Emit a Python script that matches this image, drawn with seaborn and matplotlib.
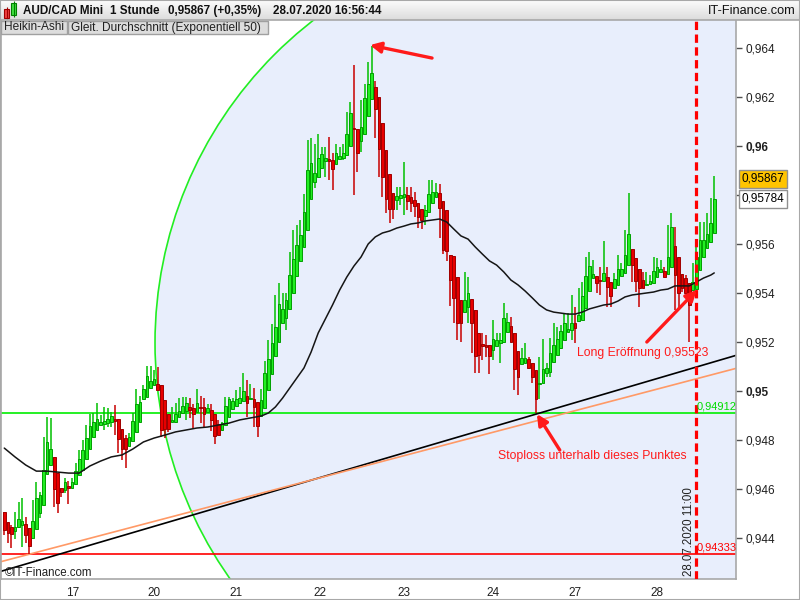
import numpy as np
import pandas as pd
import matplotlib
matplotlib.use("Agg")
import matplotlib.pyplot as plt
from matplotlib.patches import Ellipse, Rectangle
from matplotlib.colors import LinearSegmentedColormap
import seaborn as sns

# Heikin-Ashi candles, AUD/CAD 1h, 16.07.2020 - 28.07.2020
opens = [
    .94505, .94467, .94444, .94430, .94446, .94453, .94457, .94440, .94402, .94436,
    .94501, .94535, .94660, .94698, .94732, .94664, .94606, .94596, .94612, .94606,
    .94619, .94657, .94678, .94721, .94762, .94814, .94841, .94861, .94864, .94871,
    .94875, .94884, .94884, .94844, .94807, .94776, .94796, .94834, .94875, .94966,
    .94977, .95011, .95024, .95029, .95024, .94963, .94905, .94875, .94875, .94893,
    .94912, .94918, .94936, .94932, .94916, .94936, .94936, .94914, .94922, .94905,
    .94864, .94841, .94861, .94895, .94925, .94939, .94952, .94959, .94980, .94966,
    .94967, .94954, .94898, .94929, .95004, .95068, .95143, .95199, .95276, .95296,
    .95333, .95401, .95469, .95530, .95589, .95657, .95782, .95854, .95872, .95911,
    .95940, .95947, .95942, .95925, .95949, .95953, .95963, .96000, .96072, .96068,
    .96021, .96049, .96122, .96190, .96242, .96198, .96092, .95983, .95884, .95809,
    .95779, .95786, .95793, .95800, .95790, .95779, .95766, .95743, .95714, .95732,
    .95768, .95790, .95809, .95775, .95738, .95555, .95551, .95464, .95371, .95324,
    .95341, .95374, .95330, .95235, .95192, .95188, .95188, .95167, .95184, .95197,
    .95201, .95242, .95265, .95235, .95163, .95109, .95116, .95129, .95116, .95086,
    .95029, .95031, .95075, .95079, .95120, .95147, .95174, .95208, .95242, .95249,
    .95279, .95287, .95290, .95337, .95408, .95460, .95469, .95453, .95450, .95466,
    .95446, .95419, .95432, .95469, .95480, .95514, .95578, .95541, .95496, .95453,
    .95432, .95435, .95442, .95466, .95484, .95490, .95476, .95507, .95592, .95548,
    .95476, .95460, .95439, .95412, .95415, .95494, .95548, .95582, .95609, .95646,
]
highs = [
    .94505, .94467, .94453, .94508, .94546, .94565, .94487, .94440, .94555, .94630,
    .94589, .94814, .94893, .94888, .94732, .94664, .94606, .94644, .94634, .94644,
    .94705, .94759, .94800, .94861, .94906, .94909, .94952, .94902, .94936, .94929,
    .94916, .94943, .94884, .94844, .94820, .94827, .94909, .95007, .94980, .95024,
    .95102, .95102, .95086, .95097, .95024, .94963, .94905, .94936, .94950, .94970,
    .94977, .94974, .94970, .94946, .95007, .94980, .94970, .94946, .94946, .94905,
    .94882, .94875, .94977, .94977, .94970, .95004, .95018, .95072, .95045, .95027,
    .95011, .94954, .95008, .95122, .95208, .95272, .95392, .95440, .95398, .95398,
    .95568, .95657, .95677, .95698, .95806, .96024, .96031, .96010, .96047, .95997,
    .95994, .96035, .95970, .96008, .95997, .96008, .96140, .96180, .96330, .96068,
    .96187, .96255, .96344, .96408, .96266, .96198, .96092, .95983, .95884, .95809,
    .95834, .95834, .95936, .95834, .95834, .95813, .95766, .95743, .95759, .95861,
    .95861, .95850, .95845, .95775, .95738, .95555, .95551, .95464, .95371, .95487,
    .95466, .95374, .95330, .95235, .95238, .95228, .95188, .95290, .95235, .95235,
    .95358, .95317, .95303, .95235, .95163, .95174, .95197, .95140, .95116, .95086,
    .95140, .95211, .95113, .95215, .95276, .95262, .95269, .95317, .95317, .95392,
    .95344, .95419, .95446, .95548, .95568, .95534, .95469, .95507, .95612, .95507,
    .95446, .95480, .95555, .95521, .95657, .95809, .95578, .95541, .95496, .95487,
    .95487, .95473, .95548, .95541, .95534, .95507, .95677, .95725, .95670, .95548,
    .95476, .95473, .95439, .95524, .95596, .95691, .95691, .95725, .95786, .95877,
]
lows = [
    .94412, .94381, .94358, .94395, .94440, .94365, .94378, .94334, .94402, .94436,
    .94480, .94535, .94660, .94698, .94528, .94504, .94569, .94582, .94538, .94606,
    .94619, .94657, .94678, .94721, .94762, .94814, .94841, .94861, .94841, .94854,
    .94854, .94820, .94746, .94718, .94684, .94776, .94796, .94834, .94875, .94966,
    .94977, .95011, .95024, .95004, .94814, .94807, .94834, .94875, .94868, .94893,
    .94912, .94882, .94888, .94850, .94916, .94868, .94854, .94914, .94837, .94782,
    .94820, .94838, .94861, .94893, .94925, .94939, .94952, .94959, .94895, .94966,
    .94854, .94811, .94898, .94929, .95004, .95068, .95143, .95199, .95276, .95249,
    .95333, .95401, .95469, .95530, .95589, .95657, .95782, .95827, .95872, .95911,
    .95872, .95861, .95820, .95925, .95949, .95942, .95963, .96000, .95800, .95895,
    .95976, .96049, .96122, .96190, .96031, .95875, .95793, .95725, .95684, .95704,
    .95738, .95759, .95718, .95738, .95732, .95711, .95664, .95660, .95677, .95732,
    .95768, .95790, .95623, .95560, .95530, .95345, .95276, .95208, .95201, .95324,
    .95276, .95154, .95072, .95072, .95126, .95140, .95069, .95126, .95184, .95113,
    .95201, .95242, .95201, .95004, .94984, .95109, .95116, .95092, .95031, .94912,
    .94966, .95031, .95058, .95058, .95120, .95147, .95174, .95208, .95242, .95208,
    .95194, .95287, .95290, .95337, .95408, .95460, .95398, .95392, .95450, .95344,
    .95344, .95419, .95432, .95469, .95480, .95514, .95446, .95405, .95341, .95419,
    .95432, .95435, .95442, .95466, .95484, .95464, .95476, .95507, .95330, .95330,
    .95405, .95401, .95201, .95412, .95415, .95494, .95548, .95582, .95609, .95646,
]
closes = [
    .94433, .94419, .94415, .94446, .94478, .94471, .94412, .94369, .94470, .94562,
    .94576, .94678, .94793, .94762, .94599, .94544, .94589, .94630, .94603, .94627,
    .94674, .94723, .94759, .94807, .94857, .94875, .94884, .94875, .94878, .94884,
    .94898, .94879, .94803, .94762, .94762, .94814, .94878, .94946, .94956, .95007,
    .95061, .95041, .95048, .95004, .94841, .94845, .94845, .94882, .94905, .94918,
    .94939, .94950, .94922, .94906, .94950, .94931, .94905, .94932, .94882, .94816,
    .94820, .94868, .94939, .94967, .94959, .94967, .94973, .95000, .94952, .94970,
    .94933, .94859, .94963, .95072, .95129, .95197, .95262, .95355, .95333, .95371,
    .95473, .95537, .95596, .95636, .95732, .95904, .95932, .95891, .95953, .95967,
    .95953, .95940, .95908, .95970, .95959, .95972, .96051, .96136, .96068, .95972,
    .96078, .96194, .96255, .96300, .96153, .95986, .95875, .95782, .95741, .95741,
    .95796, .95800, .95806, .95777, .95766, .95756, .95711, .95698, .95738, .95806,
    .95813, .95811, .95749, .95575, .95573, .95453, .95378, .95276, .95279, .95371,
    .95401, .95279, .95143, .95147, .95184, .95181, .95144, .95211, .95208, .95208,
    .95299, .95280, .95201, .95088, .95058, .95133, .95133, .95092, .95056, .94966,
    .95034, .95088, .95092, .95156, .95188, .95211, .95245, .95276, .95252, .95276,
    .95256, .95310, .95388, .95469, .95511, .95476, .95439, .95450, .95483, .95426,
    .95389, .95456, .95496, .95498, .95555, .95641, .95514, .95449, .95419, .95419,
    .95437, .95449, .95490, .95505, .95496, .95464, .95545, .95668, .95473, .95401,
    .95419, .95401, .95351, .95446, .95548, .95616, .95616, .95641, .95684, .95782,
]

# Gleitender Durchschnitt (EMA 50), read at selected bars
ema_bar = [0, 3, 6, 9, 12, 15, 18, 21, 24, 27, 30, 33, 36, 39, 42, 45, 48, 51, 54, 57,
           60, 63, 66, 69, 72, 74, 76, 78, 80, 82, 84, 86, 88, 90, 92, 94, 96, 98, 100,
           102, 104, 106, 108, 110, 112, 114, 116, 118, 120, 122, 124, 126, 128, 130,
           132, 134, 136, 138, 140, 142, 144, 146, 148, 150, 152, 154, 156, 158, 160,
           162, 164, 166, 168, 170, 172, 174, 176, 178, 180, 182, 184, 186, 188, 190,
           192, 194, 196, 198, 199]
ema_val = [.94767, .94731, .94698, .94673, .94673, .94669, .94665, .94665, .94694, .94714,
           .94731, .94739, .94763, .94792, .94808, .94820, .94833, .94841, .94849, .94853,
           .94861, .94869, .94882, .94890, .94898, .94910, .94935, .94971, .95012, .95053,
           .95094, .95159, .95237, .95294, .95351, .95412, .95465, .95510, .95547,
           .95600, .95629, .95645, .95653, .95665, .95673, .95682, .95686, .95694, .95698,
           .95702, .95690, .95661, .95633, .95620, .95588, .95559, .95531, .95514, .95486,
           .95453, .95433, .95408, .95380, .95351, .95331, .95322, .95318, .95314, .95314,
           .95322, .95335, .95343, .95351, .95355, .95367, .95384, .95392, .95396, .95400,
           .95404, .95412, .95416, .95429, .95429, .95429, .95445, .95461, .95473, .95482]

day_ticks = [19.3, 42, 65, 88.4, 112, 137, 160, 183]
day_labels = ["17", "20", "21", "22", "23", "24", "27", "28"]
price_ticks = [0.944, 0.946, 0.948, 0.95, 0.952, 0.954, 0.956, 0.958, 0.96, 0.962, 0.964]

support = 0.94912
old_low = 0.94333
entry_bar = 194
last_close = 0.95784
last_price = 0.95867
trend_black = (0.94268, 0.95145)   # at bar 0 and bar 205
trend_orange = (0.94307, 0.95092)

sns.set_theme(style="white")
plt.rcParams["font.family"] = ["DejaVu Sans"]

fig = plt.figure(figsize=(8, 6), dpi=100)
fig.patch.set_facecolor("white")
ax = fig.add_axes([1 / 800, 21 / 600, 735 / 800, 559 / 600])
ax.set_facecolor("white")
ax.set_xlim(-0.92, 205.1)
ax.set_ylim(0.942327, 0.965143)

# circle drawing tool
ax.add_patch(Ellipse((156.6, 0.95196), 228.7, 0.033306, facecolor="#E8EEFC",
                     edgecolor="#22EE22", lw=1.2, zorder=0))

ax.axhline(support, color="#00EE00", lw=1.2, zorder=1)
ax.axhline(old_low, color="#FF0000", lw=1.2, zorder=1)
ax.axline((0, trend_black[0]), (205, trend_black[1]), color="black", lw=1.2, zorder=1)
ax.axline((0, trend_orange[0]), (205, trend_orange[1]), color="#FF9966", lw=1.2, zorder=1)

df = pd.DataFrame({"open": opens, "high": highs, "low": lows, "close": closes})
df["bar"] = np.arange(len(df))
up = df["close"] >= df["open"]
for mask, body, edge, wick in [(up, "#22EE22", "#00A000", "#00C000"),
                               (~up, "#E80000", "#A00000", "#C80000")]:
    d = df[mask]
    ax.vlines(d["bar"], d["low"], d["high"], color=wick, lw=1.1, zorder=2)
    ax.bar(d["bar"], (d["close"] - d["open"]).abs().clip(lower=0.00003),
           bottom=d[["open", "close"]].min(axis=1), width=0.75,
           color=body, edgecolor=edge, lw=0.7, zorder=3)

sns.lineplot(x=ema_bar, y=ema_val, ax=ax, color="#151515", lw=1.1, zorder=4)

ax.axvline(entry_bar, color="#FF0000", lw=2.3, linestyle=(0, (2.6, 1.4)), zorder=5)

red = "#FF1A1A"
arrow = dict(arrowstyle="-|>", color=red, lw=2.4, mutation_scale=16,
             shrinkA=0, shrinkB=0)
ax.annotate("", xy=(102.5, 0.96412), xytext=(119.9, 0.96359), arrowprops=arrow, zorder=6)
ax.annotate("", xy=(194.1, 0.95412), xytext=(180.1, 0.95200), arrowprops=arrow, zorder=6)
ax.annotate("", xy=(149.3, 0.94906), xytext=(155.7, 0.94759), arrowprops=arrow, zorder=6)

ax.text(160.5, 0.95155, "Long Eröffnung 0,95523", color=red, fontsize=8.8,
        family="Liberation Sans", ha="left", va="center", zorder=7)
ax.text(164.7, 0.94735, "Stoploss unterhalb dieses Punktes", color=red, fontsize=8.8,
        family="Liberation Sans", ha="center", va="center", zorder=7)
ax.text(191.9, 0.94243, "28.07.2020 11:00", rotation=90, color="#202020", fontsize=8.3,
        family="Liberation Sans", ha="center", va="bottom", zorder=7)
ax.text(194.1, support + 0.00006, "0,94912", color="#00DD00", fontsize=8,
        family="Liberation Sans", ha="left", va="bottom", zorder=7)
ax.text(194.1, old_low + 0.00006, "0,94333", color="#FF0000", fontsize=8,
        family="Liberation Sans", ha="left", va="bottom", zorder=7)
ax.text(0.2, 0.94257, "©IT-Finance.com", color="#202020", fontsize=8.3,
        family="Liberation Sans", ha="left", va="center", zorder=7)

# axes styling
for side in ["left", "right", "bottom"]:
    ax.spines[side].set_color("#A8A8A8")
    ax.spines[side].set_linewidth(1.2)
ax.spines["top"].set_visible(False)
ax.yaxis.tick_right()
ax.set_yticks(price_ticks)
ax.set_yticklabels([f"{t:g}".replace(".", ",") for t in price_ticks])
for lab, t in zip(ax.get_yticklabels(), price_ticks):
    if abs(t - 0.95) < 1e-9 or abs(t - 0.96) < 1e-9:
        lab.set_fontweight("bold")
ax.set_xticks(day_ticks)
ax.set_xticklabels(day_labels)
ax.tick_params(axis="y", direction="out", length=4, width=1, color="#505050",
               labelsize=8.5, pad=3, labelcolor="#202020")
ax.tick_params(axis="x", direction="out", length=4, width=1, color="#505050",
               labelsize=8.5, pad=2, labelcolor="#202020")
for lab in ax.get_xticklabels() + ax.get_yticklabels():
    lab.set_family("Liberation Sans")
ax.set_xlabel("")
ax.set_ylabel("")
ax.grid(False)

ytr = ax.get_yaxis_transform()
ax.text(1.0075, last_price, "0,95867", transform=ytr, fontsize=8.5, family="Liberation Sans",
        ha="left", va="center", color="black", zorder=10, clip_on=False,
        bbox=dict(boxstyle="square,pad=0.25", fc="#FFC400", ec="#909090", lw=1))
ax.text(1.0075, last_close, "0,95784", transform=ytr, fontsize=8.5, family="Liberation Sans",
        ha="left", va="center", color="black", zorder=10, clip_on=False,
        bbox=dict(boxstyle="square,pad=0.25", fc="white", ec="#909090", lw=1))

# header bar
hdr = fig.add_axes([0, 580 / 600, 1, 20 / 600])
grad = LinearSegmentedColormap.from_list("hdr", ["#FCFCFC", "#DCDCDC"])
hdr.imshow(np.linspace(0, 1, 20).reshape(-1, 1), aspect="auto", cmap=grad,
           extent=(0, 800, 20, 0))
hdr.set_xlim(0, 800)
hdr.set_ylim(20, 0)
hdr.axis("off")
hdr.add_patch(Rectangle((4, 9), 5, 9, fc="#F04040", ec="#A00000", lw=0.8))
hdr.add_patch(Rectangle((11, 3), 5, 12, fc="#40E040", ec="#008000", lw=0.8))
hdr.vlines([6.5, 13.5], [7, 1], [19, 17], colors=["#A00000", "#008000"], lw=0.8)
for x, s in [(23, "AUD/CAD Mini"), (110, "1 Stunde"), (168, "0,95867 (+0,35%)"),
             (273, "28.07.2020 16:56:44")]:
    hdr.text(x, 11, s, fontsize=8.4, fontweight="bold", family="Liberation Sans",
             ha="left", va="center", color="#101010")
hdr.text(796, 11, "IT-Finance.com", fontsize=9.2, family="Liberation Sans",
         ha="right", va="center", color="#101010")
fig.add_artist(plt.Line2D([0, 1], [580 / 600, 580 / 600], color="#A8A8A8", lw=1.2))

# indicator labels
for x0, x1, s in [(1, 67, "Heikin-Ashi"), (68, 268, "Gleit. Durchschnitt (Exponentiell 50)")]:
    fig.add_artist(Rectangle((x0 / 800, 1 - 34 / 600), (x1 - x0) / 800, 13 / 600,
                             transform=fig.transFigure, fc="#DDDDDD", ec="#A0A0A0",
                             lw=1, zorder=20))
    fig.text((x0 + 3) / 800, 1 - 27.5 / 600, s, fontsize=8.6, family="Liberation Sans",
             ha="left", va="center", color="#202020", zorder=21)

fig.add_artist(Rectangle((0, 0), 1, 1, transform=fig.transFigure, fill=False,
                         ec="#A8A8A8", lw=1.5, zorder=30))

fig.savefig("out.png", dpi=100)
